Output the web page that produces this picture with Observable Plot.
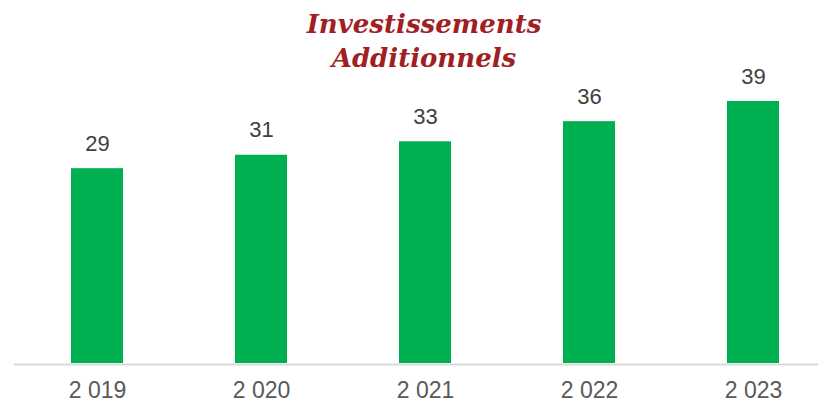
<!DOCTYPE html>
<html>
<head>
<meta charset="utf-8">
<script src="https://cdn.jsdelivr.net/npm/d3@7"></script>
<script src="https://cdn.jsdelivr.net/npm/@observablehq/plot@0.6"></script>
<style>
  html, body { margin: 0; padding: 0; background: #fff; }
  #wrap { position: relative; width: 818px; height: 402px; }
  #title {
    position: absolute; left: 224px; width: 400px; top: 7px;
    text-align: center; font-family: "DejaVu Serif", serif; font-weight: bold; font-style: italic;
    font-size: 26px; line-height: 34px; color: #A11F24;
  }
</style>
</head>
<body>
<div id="wrap">
  <div id="chart"></div>
  <div id="title">Investissements<br>Additionnels</div>
</div>
<script>
const years = ["2 019", "2 020", "2 021", "2 022", "2 023"];
const values = [29, 31, 33, 36, 39];
const data = years.map((year, i) => ({year, value: values[i]}));

const chart = Plot.plot({
  width: 818,
  height: 402,
  marginTop: 0,
  marginBottom: 39,
  marginLeft: 14,
  marginRight: 0,
  style: {fontFamily: "'Liberation Sans', Arial, sans-serif", background: "#fff"},
  x: {domain: years, range: [15, 835], paddingInner: 0.683, paddingOuter: 0.3415, label: null},
  y: {domain: [0, 39], range: [363, 101], axis: null},
  marks: [
    Plot.barY(data, {x: "year", y: "value", fill: "#00B050"}),
    Plot.ruleY([0], {stroke: "#D9D9D9", strokeWidth: 2, dy: 1}),
    Plot.text(data, {x: "year", y: "value", text: d => String(d.value), dy: -25, fontSize: 22, fill: "#404040"}),
    Plot.axisX({tickSize: 0, tickPadding: 18, fontSize: 23, color: "#595959", label: null})
  ]
});
document.getElementById("chart").appendChild(chart);
</script>
</body>
</html>
